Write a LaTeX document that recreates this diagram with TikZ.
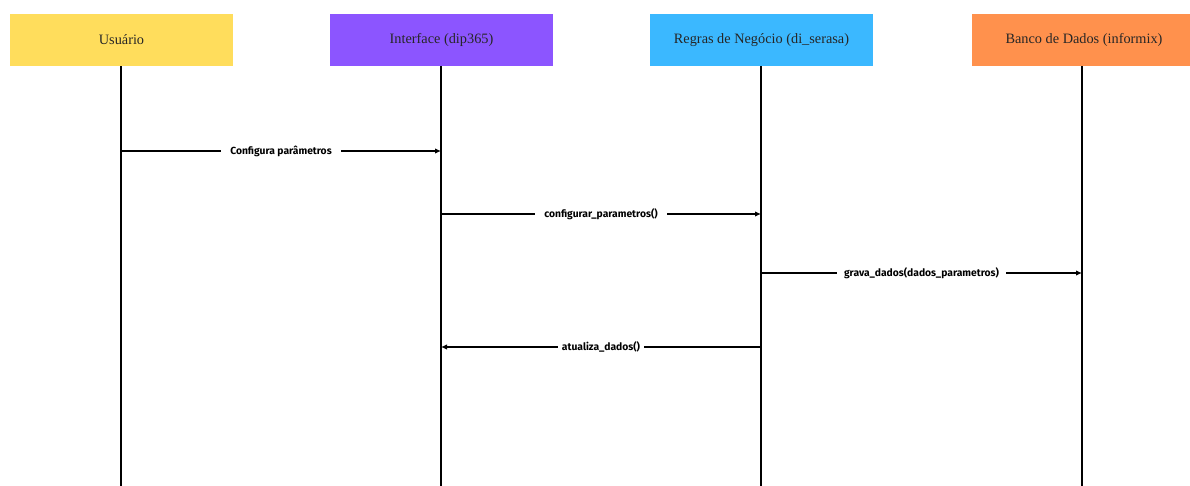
\documentclass[tikz,border=0pt]{standalone}
\usepackage{fontspec}
\setmainfont{Liberation Serif}
\newfontfamily\msgfont{Fira Sans}
\usetikzlibrary{arrows.meta}
\definecolor{cyellow}{HTML}{FFDD5C}
\definecolor{cpurple}{HTML}{8C55FF}
\definecolor{cblue}{HTML}{3BB8FF}
\definecolor{corange}{HTML}{FF914D}
\tikzset{
  actor/.style={rectangle, minimum width=223pt, minimum height=52pt, inner sep=0pt,
    text=black!85, font=\fontsize{14.3}{16}\selectfont},
  lifeline/.style={line width=1.6pt, black},
  msg/.style={line width=1.1pt, black, -{Latex[length=6pt,width=5.5pt]}},
  msglabel/.style={fill=white, inner xsep=9pt, inner ysep=1pt,
    font=\msgfont\bfseries\fontsize{10.3}{12}\selectfont}
}
\begin{document}
\begin{tikzpicture}[x=1pt,y=-1pt]
\useasboundingbox (0,0) rectangle (1190,486);
% participants
\node[actor, fill=cyellow] (usr) at (121.5,40) {Usuário};
\node[actor, fill=cpurple] (ui) at (441.5,40) {Interface (dip365)};
\node[actor, fill=cblue] (rn) at (761.5,40) {Regras de Negócio (di\_serasa)};
\node[actor, fill=corange, minimum width=224pt] (db) at (1084,40) {Banco de Dados (informix)};
% lifeline ends
\coordinate (usrE) at (121,486);
\coordinate (uiE) at (441,486);
\coordinate (rnE) at (761,486);
\coordinate (dbE) at (1082,486);
\draw[lifeline] (usr.south -| usrE) -- (usrE);
\draw[lifeline] (ui.south -| uiE) -- (uiE);
\draw[lifeline] (rn.south -| rnE) -- (rnE);
\draw[lifeline] (db.south -| dbE) -- (dbE);
% message anchor points
\coordinate (m1a) at (121,151); \coordinate (m1b) at (441,151);
\coordinate (m2a) at (441,214); \coordinate (m2b) at (761,214);
\coordinate (m3a) at (761,273); \coordinate (m3b) at (1082,273);
\coordinate (m4a) at (761,347); \coordinate (m4b) at (441,347);
% messages
\draw[msg] (m1a) -- node[msglabel] {Configura parâmetros} (m1b);
\draw[msg] (m2a) -- node[msglabel] {configurar\_parametros()} (m2b);
\draw[msg] (m3a) -- node[msglabel, inner xsep=7pt] {grava\_dados(dados\_parametros)} (m3b);
\draw[msg] (m4a) -- node[msglabel, inner xsep=4pt] {atualiza\_dados()} (m4b);
\end{tikzpicture}
\end{document}
